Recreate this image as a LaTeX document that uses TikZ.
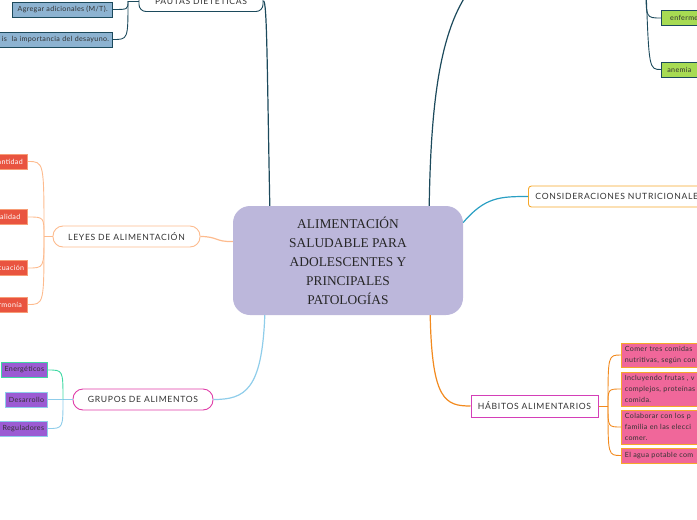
\documentclass[tikz,border=0pt]{standalone}
\usepackage{fontspec}
\setmainfont{Lato}
\newfontfamily\rootfont{Liberation Serif}
\usepackage{tikz}
\usetikzlibrary{calc}

\definecolor{rootfill}{HTML}{BCB7DB}
\definecolor{navy}{HTML}{1C4A5C}
\definecolor{steel}{HTML}{8DB3D1}
\definecolor{peach}{HTML}{FDBB8E}
\definecolor{tomato}{HTML}{E9543F}
\definecolor{grpmag}{HTML}{E03CA8}
\definecolor{habmag}{HTML}{D43FB8}
\definecolor{grpviolet}{HTML}{9B5BD3}
\definecolor{skyline}{HTML}{8FCDEA}
\definecolor{mint}{HTML}{3FD9A3}
\definecolor{teal2}{HTML}{2A9FC3}
\definecolor{amber}{HTML}{F6A82A}
\definecolor{haborange}{HTML}{F28A1E}
\definecolor{pinkbox}{HTML}{F0679A}
\definecolor{lime}{HTML}{A7DB53}

\begin{document}
\begin{tikzpicture}[
  x=1pt, y=-1pt,
  root/.style = {rounded corners=17pt, fill=rootfill, minimum width=230pt, minimum height=109pt,
                 align=center, font=\rootfont\fontsize{13.4}{19}\selectfont, text=black!85},
  topic/.style = {draw, fill=white, line width=0.9pt, minimum height=21pt, inner xsep=7pt, inner ysep=0pt,
                  font=\fontsize{8.6}{10}\selectfont\addfontfeature{LetterSpace=8}, text=black!80},
  leaf/.style = {draw, line width=0.7pt, minimum height=15pt, inner xsep=3.5pt, inner ysep=0pt,
                 font=\fontsize{7.1}{8}\selectfont\addfontfeature{LetterSpace=5}, text=black!80},
  pauta/.style = {leaf, fill=steel, draw=navy, anchor=east},
  ley/.style = {leaf, fill=tomato, draw=peach!70!tomato, text=white, anchor=east, minimum width=40pt},
  grupo/.style = {leaf, fill=grpviolet, draw=skyline, anchor=east},
  habito/.style = {leaf, fill=pinkbox, draw=amber, anchor=west, align=left, text width=110pt,
                   font=\fontsize{7.1}{11}\selectfont\addfontfeature{LetterSpace=5}},
  patol/.style = {leaf, fill=lime, draw=navy, anchor=west},
  link/.style = {line width=1.2pt},
  twig/.style = {line width=0.9pt}
]
  \useasboundingbox (0,0) rectangle (697,520);

  \node[root] (root) at (348,260.5) {ALIMENTACIÓN\\SALUDABLE PARA\\ADOLESCENTES Y\\PRINCIPALES\\PATOLOGÍAS};

  % main branches
  \node[topic, rounded corners=7pt, draw=navy, minimum width=124pt] (pautas) at (201,1) {PAUTAS DIETÉTICAS};
  \node[topic, rounded corners=10pt, draw=peach, minimum width=147pt] (leyes) at (126.5,236.5) {LEYES DE ALIMENTACIÓN};
  \node[topic, rounded corners=10pt, draw=grpmag, minimum width=140pt] (grupos) at (143,399.5) {GRUPOS DE ALIMENTOS};
  \node[topic, rounded corners=3pt, draw=amber, anchor=west] (consid) at (528,196.5) {CONSIDERACIONES NUTRICIONALES};
  \node[topic, draw=habmag, minimum width=127pt, minimum height=22pt] (habitos) at (534.5,406) {HÁBITOS ALIMENTARIOS};

  % leaves
  \node[pauta, minimum width=100pt] (adicionales) at (113,9.5) {Agregar adicionales (M/T).};
  \node[pauta, text width=108pt, align=right] (desayuno) at (113,39.5) {is\ \ la importancia del desayuno.};

  \node[ley] (cantidad)   at (28,161.5) {Cantidad};
  \node[ley] (calidad)    at (28,217)   {Calidad};
  \node[ley] (adecuacion) at (28,268)   {Adecuación};
  \node[ley] (armonia)    at (28,304.5) {Armonía};

  \node[grupo, draw=mint] (energeticos) at (48,370)   {Energéticos};
  \node[grupo] (desarrollo)  at (48,399.5) {Desarrollo};
  \node[grupo] (reguladores) at (48,428.5) {Reguladores};

  \node[habito, minimum height=24pt] (comer)   at (621,355)   {Comer tres comidas\\nutritivas, según con};
  \node[habito, minimum height=34pt] (frutas)  at (621,389)   {Incluyendo frutas , v\\complejos, proteínas\\comida.};
  \node[habito, minimum height=34pt] (familia) at (621,427)   {Colaborar con los p\\familia en las elecci\\comer.};
  \node[habito, minimum height=15pt] (agua)    at (621,455.5) {El agua potable com};

  \node[patol, minimum width=50pt] (enfermedades) at (661,18) {enfermed};
  \node[patol, minimum width=36pt] (anemia) at (661,69.5) {anemia};

  \coordinate (pautafork) at (128,1);
  \coordinate (leyfork) at (44,236.5);
  \coordinate (grupofork) at (63,399.5);
  \coordinate (habfork) at (608,406);
  \coordinate (patfork) at (478,-20);
  \coordinate (patlink) at (646,-12);

  % root links
  \draw[link, navy] (pautas.east) .. controls (267,1) and (267,60) .. ($(root.north west)+(37,0)$);
  \draw[link, navy] ($(root.north east)+(-34,0)$) .. controls (431,100) and (440,20) .. (patfork);
  \draw[link, peach] ($(root.west)+(0,-19)$) .. controls (215,242) and (218,236.5) .. (leyes.east);
  \draw[link, skyline] ($(root.south west)+(32,0)$) .. controls (262,390) and (245,399.5) .. (grupos.east);
  \draw[link, teal2] ($(root.east)+(0,-38)$) .. controls (485,197) and (500,196.5) .. (consid.west);
  \draw[link, haborange] ($(root.south east)+(-33,0)$) .. controls (432,400) and (445,406) .. (habitos.west);

  % twigs
  \draw[twig, navy] (pautas.west) -- (pautafork);
  \draw[twig, navy] (pautafork) .. controls (128,9.5) .. (adicionales.east);
  \draw[twig, navy] (pautafork) .. controls (128,39.5) .. (desayuno.east);

  \draw[twig, peach] (leyes.west) -- (leyfork);
  \draw[twig, peach] (leyfork) .. controls (leyfork |- cantidad.east) .. (cantidad.east);
  \draw[twig, peach] (leyfork) .. controls (leyfork |- calidad.east) .. (calidad.east);
  \draw[twig, peach] (leyfork) .. controls (leyfork |- adecuacion.east) .. (adecuacion.east);
  \draw[twig, peach] (leyfork) .. controls (leyfork |- armonia.east) .. (armonia.east);

  \draw[twig, skyline] (grupos.west) -- (grupofork);
  \draw[twig, mint] (grupofork) .. controls (grupofork |- energeticos.east) .. (energeticos.east);
  \draw[twig, skyline] (grupofork) -- (desarrollo.east);
  \draw[twig, skyline] (grupofork) .. controls (grupofork |- reguladores.east) .. (reguladores.east);

  \draw[twig, haborange] (habitos.east) -- (habfork);
  \draw[twig, haborange] (habfork) .. controls (habfork |- comer.west) .. (comer.west);
  \draw[twig, haborange] (habfork) .. controls (habfork |- frutas.west) .. (frutas.west);
  \draw[twig, haborange] (habfork) .. controls (habfork |- familia.west) .. (familia.west);
  \draw[twig, haborange] (habfork) .. controls (habfork |- agua.west) .. (agua.west);

  \draw[twig, navy] (patlink) .. controls (646,18) .. (enfermedades.west);
  \draw[twig, navy] (patlink) .. controls (649,69.5) .. (anemia.west);
\end{tikzpicture}
\end{document}
